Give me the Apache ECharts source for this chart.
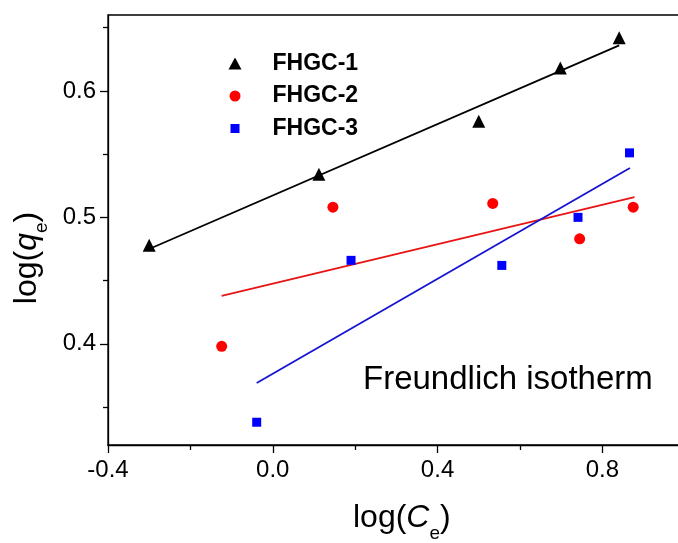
<!DOCTYPE html>
<html><head><meta charset="utf-8">
<script src="https://cdn.jsdelivr.net/npm/echarts@6/dist/echarts.min.js"></script>
<style>html,body{margin:0;padding:0;overflow:hidden;background:#fff}#c{width:700px;height:543px}</style>
</head><body><div id="c"></div><script>
const seriesNames = ['FHGC-1', 'FHGC-2', 'FHGC-3'];
const fhgc1X = [-0.300, 0.112, 0.500, 0.698, 0.841];
const fhgc1Y = [0.478, 0.534, 0.576, 0.618, 0.642];
const fhgc2X = [-0.124, 0.146, 0.534, 0.745, 0.875];
const fhgc2Y = [0.398, 0.508, 0.511, 0.483, 0.508];
const fhgc3X = [-0.039, 0.190, 0.556, 0.741, 0.866];
const fhgc3Y = [0.338, 0.466, 0.462, 0.500, 0.551];
// fitted lines, end points
const fit1X = [-0.307, 0.841];
const fit1Y = [0.474, 0.636];
const fit2X = [-0.124, 0.878];
const fit2Y = [0.438, 0.516];
const fit3X = [-0.039, 0.867];
const fit3Y = [0.369, 0.539];
const xMajorTicks = [-0.4, 0.0, 0.4, 0.8];
const xMinorTicks = [-0.2, 0.2, 0.6];
const yMajorTicks = [0.4, 0.5, 0.6];
const yMinorTicks = [0.35, 0.45, 0.55, 0.65];
const annotation = 'Freundlich isotherm';

const FONT = '"Liberation Sans", Arial, sans-serif';
const pairs = (xs, ys) => xs.map((x, i) => [x, ys[i]]);
const nameRich = {
  a: { fontSize: 32, fontFamily: FONT, color: '#000', verticalAlign: 'top', lineHeight: 32 },
  i: { fontSize: 32, fontFamily: FONT, color: '#000', fontStyle: 'italic', verticalAlign: 'top', lineHeight: 32 },
  s: { fontSize: 19, fontFamily: FONT, color: '#000', verticalAlign: 'top', lineHeight: 19, padding: [22, 0, 0, 0] }
};
const axisCommon = {
  type: 'value',
  splitLine: { show: false },
  axisLine: { show: true, onZero: false, lineStyle: { color: '#000', width: 1.3 } }
};
const hiddenLine = { show: false, onZero: false };
const legendText = { fontSize: 23, fontWeight: 'bold', fontFamily: FONT, color: '#000', padding: [0, 0, 0, 26] };
const chart = echarts.init(document.getElementById('c'), null, { renderer: 'canvas' });
chart.setOption({
  animation: false,
  backgroundColor: '#fff',
  grid: { left: 108, top: 15, right: 15.3, bottom: 98, show: true, borderColor: '#000', borderWidth: 1.3, containLabel: false, outerBoundsMode: 'none' },
  xAxis: [
    Object.assign({}, axisCommon, {
      min: -0.4, max: 1.0, position: 'bottom',
      axisTick: { show: true, customValues: xMajorTicks, length: 8, lineStyle: { color: '#000', width: 1.3 } },
      axisLabel: { customValues: xMajorTicks, formatter: v => v.toFixed(1), fontSize: 24, fontFamily: FONT, color: '#000', margin: 13 },
      name: '{a|log(}{i|C}{s|e}{a|)}', nameLocation: 'middle', nameGap: 57,
      nameTextStyle: { rich: nameRich, padding: [0, 0, 0, 11] }
    }),
    Object.assign({}, axisCommon, {
      min: -0.4, max: 1.0, position: 'bottom',
      axisLine: hiddenLine,
      axisTick: { show: true, customValues: xMinorTicks, length: 5, lineStyle: { color: '#000', width: 1.3 } },
      axisLabel: { show: false }
    })
  ],
  yAxis: [
    Object.assign({}, axisCommon, {
      min: 0.32, max: 0.66, position: 'left',
      axisTick: { show: true, customValues: yMajorTicks, length: 8, lineStyle: { color: '#000', width: 1.3 } },
      axisLabel: { customValues: yMajorTicks, formatter: v => v.toFixed(1), fontSize: 24, fontFamily: FONT, color: '#000', margin: 12 },
      name: '{a|log(}{i|q}{s|e}{a|)}', nameLocation: 'middle', nameGap: 57,
      nameTextStyle: { rich: nameRich, padding: [0, 56, 0, 0] }
    }),
    Object.assign({}, axisCommon, {
      min: 0.32, max: 0.66, position: 'left',
      axisLine: hiddenLine,
      axisTick: { show: true, customValues: yMinorTicks, length: 5, lineStyle: { color: '#000', width: 1.3 } },
      axisLabel: { show: false }
    })
  ],
  legend: [
    { data: [{ name: seriesNames[0], icon: 'triangle' }], left: 228.5, top: 52, padding: 0, itemWidth: 13, itemHeight: 12,
      symbolKeepAspect: true, textStyle: legendText },
    { data: [{ name: seriesNames[1], icon: 'circle' }], left: 229.5, top: 84.5, padding: 0, itemWidth: 11, itemHeight: 11,
      symbolKeepAspect: true, textStyle: Object.assign({}, legendText, { padding: [0, 0, 0, 27] }) },
    { data: [{ name: seriesNames[2], icon: 'rect' }], left: 230.5, top: 117, padding: 0, itemWidth: 9, itemHeight: 9,
      symbolKeepAspect: true, textStyle: Object.assign({}, legendText, { padding: [0, 0, 0, 28] }) }
  ],
  graphic: [
    { type: 'text', x: 363, y: 379.5, silent: true,
      style: { text: annotation, fontSize: 33, fontFamily: FONT, fill: '#000', verticalAlign: 'middle' } }
  ],
  series: [
    { name: 'fit1', type: 'line', data: pairs(fit1X, fit1Y), showSymbol: false, silent: true,
      lineStyle: { color: '#000', width: 1.8 }, z: 1 },
    { name: 'fit2', type: 'line', data: pairs(fit2X, fit2Y), showSymbol: false, silent: true,
      lineStyle: { color: '#e81414', width: 1.8 }, z: 1 },
    { name: 'fit3', type: 'line', data: pairs(fit3X, fit3Y), showSymbol: false, silent: true,
      lineStyle: { color: '#1414d2', width: 1.8 }, z: 1 },
    { name: seriesNames[0], type: 'scatter', data: pairs(fhgc1X, fhgc1Y), symbol: 'triangle', symbolSize: 13,
      itemStyle: { color: '#000', opacity: 1 }, z: 3 },
    { name: seriesNames[1], type: 'scatter', data: pairs(fhgc2X, fhgc2Y), symbol: 'circle', symbolSize: 11,
      itemStyle: { color: '#ff0000', opacity: 1 }, z: 3 },
    { name: seriesNames[2], type: 'scatter', data: pairs(fhgc3X, fhgc3Y), symbol: 'rect', symbolSize: 9,
      itemStyle: { color: '#0000ff', opacity: 1 }, z: 3 }
  ]
});
</script></body></html>
